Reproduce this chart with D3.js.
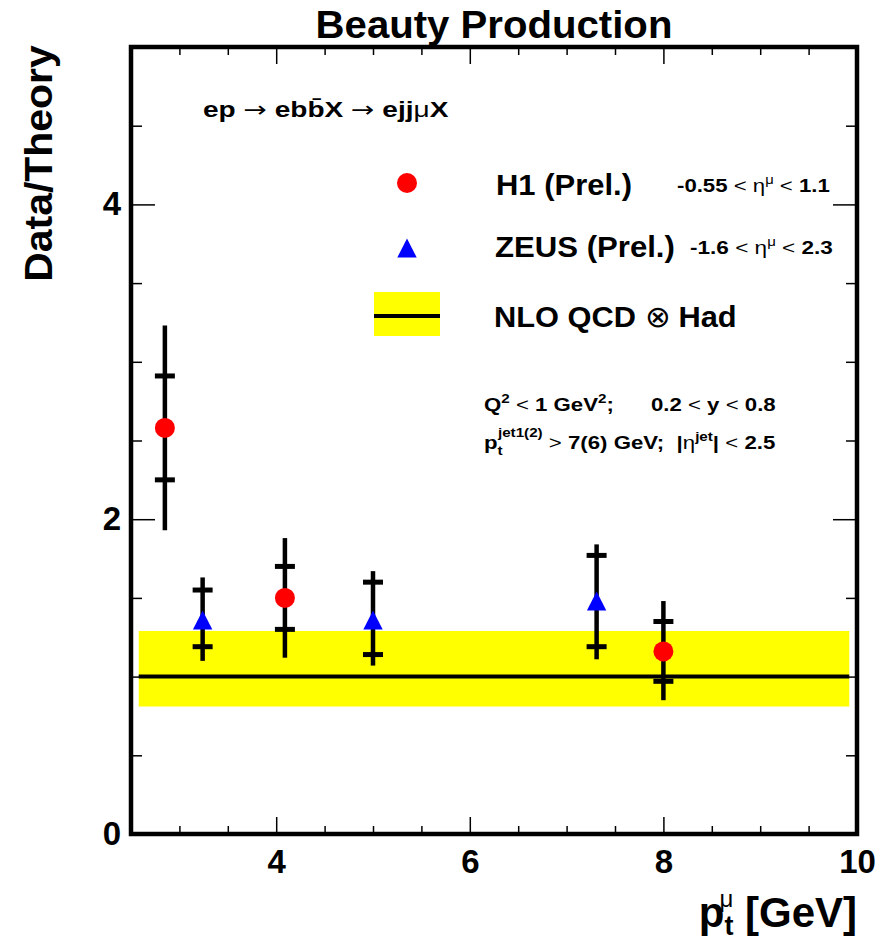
<!DOCTYPE html>
<html>
<head>
<meta charset="utf-8">
<script src="https://cdn.jsdelivr.net/npm/d3@7"></script>
<style>
  html, body { margin: 0; padding: 0; background: #fff; }
  svg { display: block; }
  text { font-family: "Liberation Sans", Arial, Helvetica, sans-serif; font-weight: bold; fill: #000; white-space: pre; }
</style>
</head>
<body>
<div id="chart"></div>
<script>
// ---------------- data ----------------
const xDomain = [2.5, 10];
const yDomain = [0, 5];
const xMajorTicks = [4, 6, 8, 10];
const xMinorTicks = [3, 3.5, 4.5, 5, 5.5, 6.5, 7, 7.5, 8.5, 9, 9.5];
const yMajorTicks = [0, 2, 4];
const yMinorTicks = [0.5, 1, 1.5, 2.5, 3, 3.5, 4.5];

// H1 (Prel.)
const h1X      = [2.85, 4.09, 8.00];
const h1Y      = [2.58, 1.50, 1.16];
const h1StatLo = [2.25, 1.30, 0.97];
const h1StatHi = [2.91, 1.70, 1.35];
const h1TotLo  = [1.93, 1.12, 0.85];
const h1TotHi  = [3.23, 1.88, 1.48];

// ZEUS (Prel.)
const zeusX      = [3.24, 5.00, 7.31];
const zeusY      = [1.36, 1.36, 1.48];
const zeusStatLo = [1.19, 1.14, 1.19];
const zeusStatHi = [1.55, 1.60, 1.77];
const zeusTotLo  = [1.10, 1.07, 1.11];
const zeusTotHi  = [1.63, 1.67, 1.84];

// NLO QCD (x) Had
const nloX    = [2.58, 9.92];
const nloY    = 1.0;
const nloBand = [0.81, 1.29];

// ---------------- chart ----------------
const W = 890, H = 941;
const svg = d3.select("#chart").append("svg").attr("width", W).attr("height", H);

const x = d3.scaleLinear().domain(xDomain).range([131, 857]);
const y = d3.scaleLinear().domain(yDomain).range([834, 47]);

// band + central line
svg.append("rect")
  .attr("x", x(nloX[0])).attr("width", x(nloX[1]) - x(nloX[0]))
  .attr("y", y(nloBand[1])).attr("height", y(nloBand[0]) - y(nloBand[1]))
  .attr("fill", "#ffff00");
svg.append("line")
  .attr("x1", x(nloX[0])).attr("x2", x(nloX[1]))
  .attr("y1", y(nloY)).attr("y2", y(nloY))
  .attr("stroke", "#000").attr("stroke-width", 4);

function errorBars(xs, lo, hi, slo, shi) {
  const g = svg.append("g");
  xs.forEach((xv, i) => {
    g.append("line").attr("x1", x(xv)).attr("x2", x(xv))
      .attr("y1", y(lo[i])).attr("y2", y(hi[i]))
      .attr("stroke", "#000").attr("stroke-width", 4.5);
    [slo[i], shi[i]].forEach(v => {
      g.append("line").attr("x1", x(xv) - 10).attr("x2", x(xv) + 10)
        .attr("y1", y(v)).attr("y2", y(v))
        .attr("stroke", "#000").attr("stroke-width", 5);
    });
  });
}
errorBars(h1X, h1TotLo, h1TotHi, h1StatLo, h1StatHi);
errorBars(zeusX, zeusTotLo, zeusTotHi, zeusStatLo, zeusStatHi);

const triPath = "M0,-9.5L9.7,9.5L-9.7,9.5Z";
svg.append("g").selectAll("circle").data(h1X).join("circle")
  .attr("cx", d => x(d)).attr("cy", (d, i) => y(h1Y[i])).attr("r", 10)
  .attr("fill", "#ff0000");
svg.append("g").selectAll("path").data(zeusX).join("path")
  .attr("d", triPath)
  .attr("transform", (d, i) => `translate(${x(d)},${y(zeusY[i])})`)
  .attr("fill", "#0000ff");

// axes (ticks inward on all four sides)
function styleAxis(g) {
  g.select(".domain").remove();
  g.selectAll(".tick line").attr("stroke", "#000").attr("stroke-width", 1.5);
  g.selectAll("text").attr("font-size", 33).attr("font-family", null).attr("fill", "#000");
}
svg.append("g").attr("transform", "translate(0,834)")
  .call(d3.axisBottom(x).tickValues(xMajorTicks).tickSizeInner(-17).tickSizeOuter(0).tickPadding(16).tickFormat(d3.format("d")))
  .call(styleAxis);
svg.append("g").attr("transform", "translate(0,834)")
  .call(d3.axisBottom(x).tickValues(xMinorTicks).tickSize(-8).tickFormat(""))
  .call(styleAxis);
svg.append("g").attr("transform", "translate(0,47)")
  .call(d3.axisTop(x).tickValues(xMajorTicks).tickSize(-17).tickFormat(""))
  .call(styleAxis);
svg.append("g").attr("transform", "translate(0,47)")
  .call(d3.axisTop(x).tickValues(xMinorTicks).tickSize(-8).tickFormat(""))
  .call(styleAxis);
svg.append("g").attr("transform", "translate(131,0)")
  .call(d3.axisLeft(y).tickValues(yMajorTicks).tickSizeInner(-24).tickSizeOuter(0).tickPadding(10).tickFormat(d3.format("d")))
  .call(styleAxis);
svg.append("g").attr("transform", "translate(131,0)")
  .call(d3.axisLeft(y).tickValues(yMinorTicks).tickSize(-11).tickFormat(""))
  .call(styleAxis);
svg.append("g").attr("transform", "translate(857,0)")
  .call(d3.axisRight(y).tickValues(yMajorTicks).tickSize(-24).tickFormat(""))
  .call(styleAxis);
svg.append("g").attr("transform", "translate(857,0)")
  .call(d3.axisRight(y).tickValues(yMinorTicks).tickSize(-11).tickFormat(""))
  .call(styleAxis);

// frame
svg.append("rect").attr("x", 131).attr("y", 47).attr("width", 857 - 131).attr("height", 834 - 47)
  .attr("fill", "none").attr("stroke", "#000").attr("stroke-width", 4.5);

// rich text helper: parts = [text, {t, n(normal weight), s(size), dy(shift), dx}]
function rich(xp, yp, size, parts, anchor, targetWidth) {
  const t = svg.append("text").attr("x", xp).attr("y", yp).attr("font-size", size)
    .attr("text-anchor", anchor || "start");
  let cur = 0;
  parts.forEach(p => {
    const o = typeof p === "string" ? { t: p } : p;
    const shift = o.dy || 0;
    const ts = t.append("tspan").text(o.t).attr("dy", shift - cur);
    cur = shift;
    if (o.n) ts.attr("font-weight", "normal");
    if (o.s) ts.attr("font-size", o.s);
    if (o.dx) ts.attr("dx", o.dx);
    if (o.f) ts.attr("font-family", o.f);
  });
  if (targetWidth) {
    const w = t.node().getBBox().width;
    const k = targetWidth / w;
    t.attr("transform", `translate(${xp},${yp}) scale(${k},1) translate(${-xp},${-yp})`);
  }
  return t;
}

// title & axis titles
rich(494, 38, 38, ["Beauty Production"], "middle", 357);
{
  const yl = svg.append("text").attr("x", 0).attr("y", 0)
    .attr("text-anchor", "middle").attr("font-size", 39).text("Data/Theory");
  const w = yl.node().getBBox().width;
  yl.attr("transform", `translate(52,163.5) rotate(-90) scale(${237 / w},1)`);
}
rich(857, 927, 42, [
  "p",
  { t: "t", s: 27, dy: 8 },
  { t: "\u03bc", s: 24, dy: -20, n: true, dx: -14 },
  { t: " [GeV]", dy: 0 }
], "end");

// process
rich(203, 117, 22, [
  "ep ", { t: "\u2192", n: true, f: "DejaVu Sans" }, " ebb\u0304X ",
  { t: "\u2192", n: true, f: "DejaVu Sans" }, " ejj", { t: "\u03bc", n: true }, "X"
], "start", 246);

// legend
svg.append("circle").attr("cx", 407).attr("cy", 183).attr("r", 10).attr("fill", "#ff0000");
svg.append("path").attr("d", triPath).attr("transform", "translate(407,248)").attr("fill", "#0000ff");
svg.append("rect").attr("x", 374).attr("y", 292).attr("width", 66).attr("height", 44).attr("fill", "#ffff00");
svg.append("line").attr("x1", 374).attr("x2", 440).attr("y1", 316).attr("y2", 316)
  .attr("stroke", "#000").attr("stroke-width", 4);

rich(496, 195, 30, ["H1 (Prel.)"], "start", 136);
rich(495, 257, 30, ["ZEUS (Prel.)"], "start", 180);
rich(494, 327, 30, ["NLO QCD ", { t: "\u2297", n: true }, " Had"], "start", 243);

rich(677, 192, 18, [
  "-0.55 ", { t: "<", n: true }, " ", { t: "\u03b7", n: true },
  { t: "\u03bc", n: true, s: 12, dy: -8 }, { t: " ", dy: 0 }, { t: "<", n: true }, " 1.1"
], "start", 153);
rich(690, 254, 18, [
  "-1.6 ", { t: "<", n: true }, " ", { t: "\u03b7", n: true },
  { t: "\u03bc", n: true, s: 12, dy: -8 }, { t: " ", dy: 0 }, { t: "<", n: true }, " 2.3"
], "start", 143);

// cuts
rich(484, 411, 19, [
  "Q", { t: "2", s: 13, dy: -8 }, { t: " ", dy: 0 }, { t: "<", n: true }, " 1 GeV",
  { t: "2", s: 13, dy: -8 }, { t: ";      0.2 ", dy: 0 }, { t: "<", n: true }, " y ",
  { t: "<", n: true }, " 0.8"
], "start", 292);
rich(484, 449, 19, [
  "p", { t: "t", s: 13, dy: 6 }, { t: "jet1(2)", s: 13, dy: -12, dx: -4 },
  { t: " ", dy: 0 }, { t: ">", n: true }, " 7(6) GeV;  |", { t: "\u03b7", n: true },
  { t: "jet", s: 13, dy: -8 }, { t: "| ", dy: 0 }, { t: "<", n: true }, " 2.5"
], "start", 292);
</script>
</body>
</html>
